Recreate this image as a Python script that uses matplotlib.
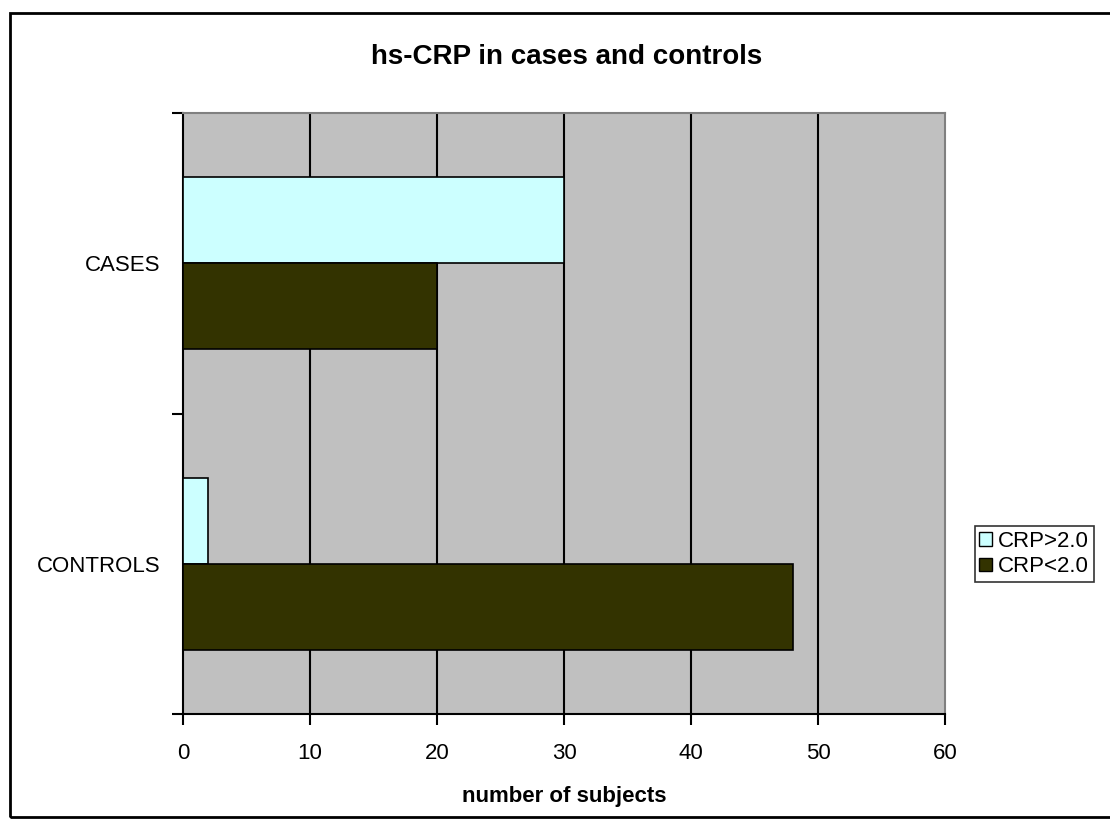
import matplotlib
matplotlib.use("Agg")
import matplotlib.pyplot as plt
from matplotlib.patches import Rectangle, Patch
import numpy as np

plt.rcParams['font.family'] = ['Liberation Sans', 'DejaVu Sans']

categories = ["CONTROLS", "CASES"]
crp_high = [2, 30]   # CRP>2.0
crp_low = [48, 20]   # CRP<2.0
series_labels = ["CRP>2.0", "CRP<2.0"]
x_ticks = [0, 10, 20, 30, 40, 50, 60]

W, H = 1110, 827
fig = plt.figure(figsize=(W / 100, H / 100), dpi=100)
ax = fig.add_axes([183 / W, 1 - 714 / H, (945 - 183) / W, (714 - 113) / H])
ax.set_facecolor("#C0C0C0")

y = np.arange(len(categories))
h = 0.287
c_high = "#CCFFFF"
c_low = "#333300"
ax.barh(y + h / 2, crp_high, height=h, color=c_high, edgecolor="black", linewidth=1.2, zorder=3)
ax.barh(y - h / 2, crp_low, height=h, color=c_low, edgecolor="black", linewidth=1.2, zorder=3)

ax.set_xlim(0, 60)
ax.set_ylim(-0.5, 1.5)
ax.set_xticks(x_ticks)
ax.set_xticklabels([str(t) for t in x_ticks], fontsize=16)
for t in x_ticks[1:-1]:
    ax.axvline(t, color="black", linewidth=1.5, zorder=1)

ax.set_yticks(y)
ax.set_yticklabels(categories, fontsize=16)
ax.set_yticks([-0.5, 0.5, 1.5], minor=True)
ax.tick_params(axis="y", which="major", length=0, pad=16)
ax.tick_params(axis="y", which="minor", length=8, width=1.5, direction="out")
ax.tick_params(axis="x", which="major", length=8, width=1.5, direction="out", pad=13)

for s in ["left", "bottom"]:
    ax.spines[s].set_color("black")
    ax.spines[s].set_linewidth(1.5)
for s in ["top", "right"]:
    ax.spines[s].set_color("#808080")
    ax.spines[s].set_linewidth(1.5)

ax.set_xlabel("number of subjects", fontsize=16, fontweight="bold", labelpad=16)
fig.text(567 / W, 1 - 57 / H, "hs-CRP in cases and controls", fontsize=20,
         fontweight="bold", ha="center", va="center")

handles = [Patch(facecolor=c_high, edgecolor="black", linewidth=1.0),
           Patch(facecolor=c_low, edgecolor="black", linewidth=1.0)]
leg = fig.legend(handles, series_labels, loc="center left",
                 bbox_to_anchor=(975 / W, 1 - 554 / H), fontsize=16,
                 frameon=True, fancybox=False, shadow=False,
                 handlelength=0.55, handleheight=0.55, handletextpad=0.3,
                 borderpad=0.2, labelspacing=0.2, borderaxespad=0)
leg.get_frame().set_edgecolor("black")
leg.get_frame().set_linewidth(1.2)

fig.patches.append(Rectangle((10 / W, 1 - 817 / H), (W + 20 - 10) / W, (817 - 13) / H,
                             transform=fig.transFigure, fill=False,
                             edgecolor="black", linewidth=2, zorder=0))

fig.savefig("out.png", dpi=100)
